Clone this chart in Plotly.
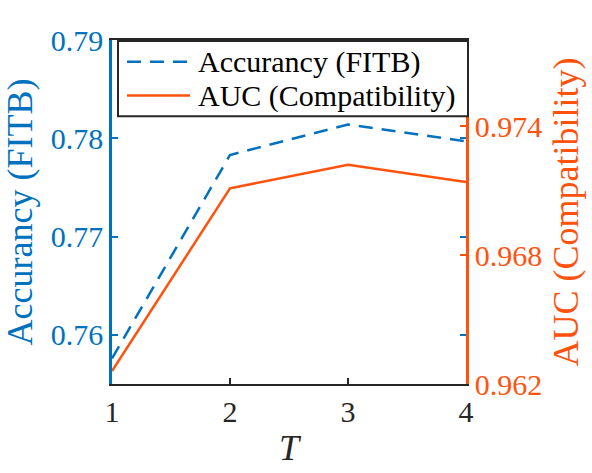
import plotly.graph_objects as go

T = [1, 2, 3, 4]
acc_fitb = [0.7576, 0.7783, 0.7814, 0.7797]
auc_comp = [0.9626, 0.9711, 0.9722, 0.9714]

left_ticks = [0.76, 0.77, 0.78, 0.79]
left_labels = ["0.76", "0.77", "0.78", "0.79"]
right_ticks = [0.962, 0.968, 0.974]
right_labels = ["0.962", "0.968", "0.974"]
series_names = ["Accurancy (FITB)", "AUC (Compatibility)"]

BLUE = "#0072BD"
ORANGE = "#FF520D"
DARK = "#262626"
FONT = "Times New Roman, Liberation Serif, serif"

W, H = 592, 473
ML, MR, MT, MB = 112, 126, 40, 86
PW, PH = W - ML - MR, H - MT - MB


def px_x(p):
    return (p - ML) / PW


def px_y(p):
    return (H - MB - p) / PH


fig = go.Figure()
fig.add_trace(go.Scatter(x=T, y=acc_fitb, mode="lines", name=series_names[0],
                         line=dict(color=BLUE, width=2.5, dash="14px,9px"), yaxis="y"))
fig.add_trace(go.Scatter(x=T, y=auc_comp, mode="lines", name=series_names[1],
                         line=dict(color=ORANGE, width=2.5), yaxis="y2"))

# legend box drawn by hand (MATLAB style)
shapes = [
    dict(type="rect", xref="paper", yref="paper", layer="above",
         x0=px_x(118), x1=px_x(468), y0=px_y(117), y1=px_y(41),
         fillcolor="white", line=dict(color=DARK, width=2)),
    dict(type="line", xref="paper", yref="paper", layer="above",
         x0=px_x(127), x1=px_x(190), y0=px_y(62), y1=px_y(62),
         line=dict(color=BLUE, width=2.5, dash="14px,9px")),
    dict(type="line", xref="paper", yref="paper", layer="above",
         x0=px_x(127), x1=px_x(190), y0=px_y(96), y1=px_y(96),
         line=dict(color=ORANGE, width=2.5)),
]
annotations = [
    dict(xref="paper", yref="paper", x=px_x(196), y=px_y(62), xanchor="left", yanchor="middle",
         text=series_names[0], showarrow=False, font=dict(family=FONT, size=30, color="black")),
    dict(xref="paper", yref="paper", x=px_x(196), y=px_y(96), xanchor="left", yanchor="middle",
         text=series_names[1], showarrow=False, font=dict(family=FONT, size=30, color="black")),
]

fig.update_layout(
    width=W, height=H,
    margin=dict(l=ML, r=MR, t=MT, b=MB),
    plot_bgcolor="white", paper_bgcolor="white",
    font=dict(family=FONT, size=30, color=DARK),
    showlegend=False,
    shapes=shapes, annotations=annotations,
    xaxis=dict(range=[1, 4], tickvals=T, ticktext=[str(t) for t in T],
               ticks="inside", ticklen=6, tickwidth=2, tickcolor=DARK,
               showline=True, linecolor=DARK, linewidth=2, mirror=True,
               showgrid=False, zeroline=False,
               tickfont=dict(family=FONT, size=30, color=DARK),
               title=dict(text="<i>T</i>", font=dict(family=FONT, size=36, color=DARK), standoff=8)),
    yaxis=dict(range=[0.755, 0.79], tickvals=left_ticks, ticktext=left_labels,
               ticks="inside", ticklen=6, tickwidth=2, tickcolor=BLUE,
               showline=True, linecolor=BLUE, linewidth=2.5, mirror="ticks",
               showgrid=False, zeroline=False,
               tickfont=dict(family=FONT, size=30, color=BLUE),
               title=dict(text="Accurancy (FITB)", font=dict(family=FONT, size=36, color=BLUE), standoff=10)),
    yaxis2=dict(range=[0.962, 0.978], tickvals=right_ticks, ticktext=right_labels,
                overlaying="y", side="right",
                ticks="inside", ticklen=6, tickwidth=2, tickcolor=ORANGE,
                showline=True, linecolor=ORANGE, linewidth=2.5,
                showgrid=False, zeroline=False,
                tickfont=dict(family=FONT, size=30, color=ORANGE),
                title=dict(text="AUC (Compatibility)", font=dict(family=FONT, size=36, color=ORANGE), standoff=12)),
)

fig.write_html("out.html")
